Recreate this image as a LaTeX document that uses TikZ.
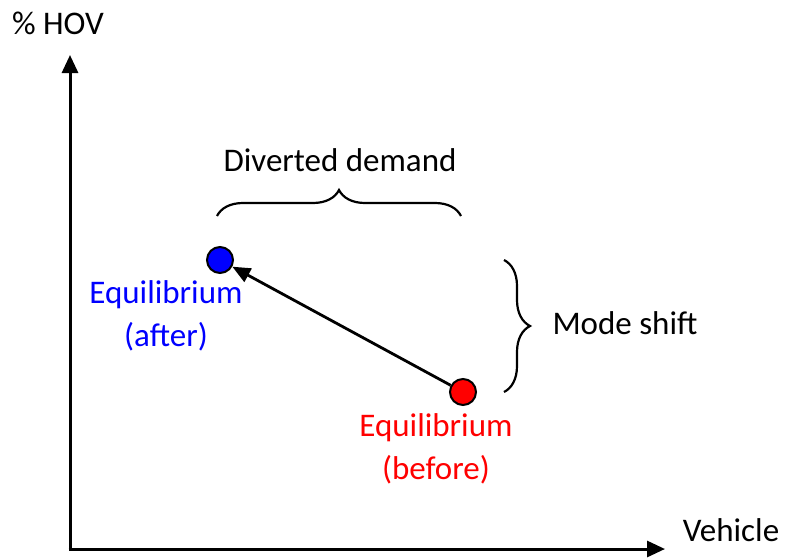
\documentclass[tikz,border=0pt]{standalone}
\usepackage{fontspec}
\setmainfont{Carlito}
\usetikzlibrary{arrows.meta,decorations.pathreplacing}
\begin{document}
\begin{tikzpicture}[x=1pt,y=-1pt,
  lbl/.style={inner sep=0pt,font=\fontsize{33}{43}\selectfont,align=center},
  axis/.style={line width=3pt,-{Triangle[length=18pt,width=16pt]}},
  dot/.style={circle,draw=black,line width=2pt,minimum size=26pt,inner sep=0pt},
  brc/.style={line width=2.2pt,decorate,decoration={brace,amplitude=26pt,aspect=0.5}}]
\useasboundingbox (0,0) rectangle (787,557);
\coordinate (o) at (70,549);
\coordinate (ytip) at (70,55);
\coordinate (xtip) at (665,549);
\draw[axis] (o) -- (ytip);
\draw[axis] ([xshift=-1.5pt]o) -- (xtip);
\node[lbl] (hov) at (58,23) {\% HOV};
\node[lbl] (veh) at (731,530) {Vehicle};
\node[dot,fill=blue] (after) at (220,260) {};
\node[dot,fill=red] (before) at (463,392) {};
\draw[line width=2.8pt,-{Triangle[length=18pt,width=15pt]}] (before) -- (after);
\node[lbl,text=blue] (afterlbl) at (166,316) {Equilibrium\\(after)};
\node[lbl,text=red] (beforelbl) at (436,449) {Equilibrium\\(before)};
\coordinate (b1) at (217,216);
\coordinate (b2) at (461,216);
\draw[brc] (b1) -- (b2);
\node[lbl] (div) at (340,160) {Diverted demand};
\coordinate (c1) at (504,260);
\coordinate (c2) at (504,392);
\draw[brc] (c1) -- (c2);
\node[lbl] (mode) at (625,323) {Mode shift};
\end{tikzpicture}
\end{document}
